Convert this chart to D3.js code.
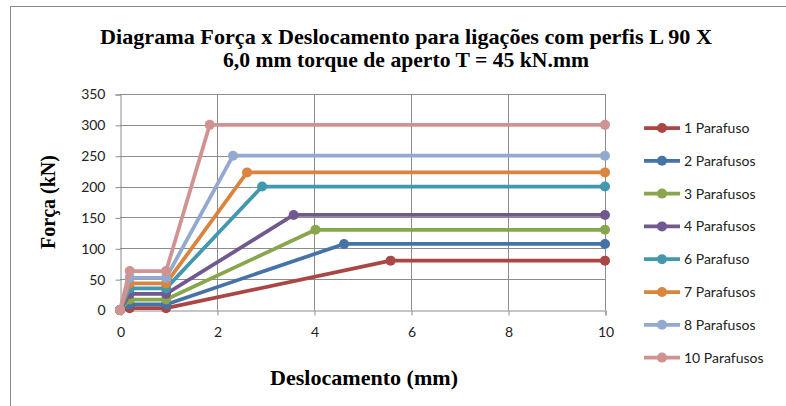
<!DOCTYPE html>
<html>
<head>
<meta charset="utf-8">
<script src="https://cdn.jsdelivr.net/npm/d3@7"></script>
<style>
  html, body { margin: 0; padding: 0; background: #fff; }
  svg { display: block; }
</style>
</head>
<body>
<svg id="chart" width="786" height="406"></svg>
<script>
// Force–displacement curves, one per bolt count
const seriesNames = ["1 Parafuso", "2 Parafusos", "3 Parafusos", "4 Parafusos",
                     "6 Parafuso", "7 Parafusos", "8 Parafusos", "10 Parafusos"];
const seriesColors = ["#AA4643", "#4572A7", "#89A54E", "#71588F",
                      "#4198AF", "#DB843D", "#93A9CF", "#D19392"];
// displacement (mm) of each point, per series
const dispValues = [
  [0, 0.2, 0.95, 5.58, 10],
  [0, 0.2, 0.95, 4.62, 10],
  [0, 0.2, 0.95, 4.03, 10],
  [0, 0.2, 0.95, 3.58, 10],
  [0, 0.2, 0.95, 2.93, 10],
  [0, 0.2, 0.95, 2.62, 10],
  [0, 0.2, 0.95, 2.33, 10],
  [0, 0.2, 0.95, 1.85, 10]
];
// force (kN) of each point, per series
const forceValues = [
  [0, 3, 3, 80, 80],
  [0, 9, 9, 107, 107],
  [0, 17, 17, 130, 130],
  [0, 26, 26, 154, 154],
  [0, 35, 35, 200, 200],
  [0, 43, 43, 223, 223],
  [0, 52, 52, 250, 250],
  [0, 63, 63, 300, 300]
];
const xTicks = [0, 2, 4, 6, 8, 10];
const yTicks = [0, 50, 100, 150, 200, 250, 300, 350];

const titleLines = ["Diagrama Força x Deslocamento para ligações com perfis L 90 X",
                    "6,0 mm torque de aperto T = 45 kN.mm"];
const titleWidths = [612, 366];
const xTitle = "Deslocamento (mm)";
const yTitle = "Força (kN)";

const svg = d3.select("#chart");
const plot = { left: 120, right: 605, top: 94, bottom: 310 };

const x = d3.scaleLinear().domain([0, 10]).range([plot.left, plot.right]);
const y = d3.scaleLinear().domain([0, 350]).range([plot.bottom, plot.top]);

const gridColor = "#8c8c8c";
const tickFont = "Lato, 'Open Sans', sans-serif";
const serif = "'Liberation Serif', 'Times New Roman', serif";

// outer chart frame
svg.append("rect")
  .attr("x", 10.5).attr("y", 6.5)
  .attr("width", 800).attr("height", 420)
  .attr("fill", "none").attr("stroke", "#8a8a8a").attr("stroke-width", 1);

// horizontal gridlines
svg.append("g")
  .selectAll("line")
  .data(yTicks.filter(d => d > 0))
  .join("line")
  .attr("x1", plot.left).attr("x2", plot.right)
  .attr("y1", d => Math.round(y(d)) + 0.5).attr("y2", d => Math.round(y(d)) + 0.5)
  .attr("stroke", gridColor).attr("stroke-width", 1);

// vertical gridlines
svg.append("g")
  .selectAll("line")
  .data(xTicks.filter(d => d > 0))
  .join("line")
  .attr("x1", d => Math.round(x(d)) + 0.5).attr("x2", d => Math.round(x(d)) + 0.5)
  .attr("y1", plot.top).attr("y2", plot.bottom)
  .attr("stroke", gridColor).attr("stroke-width", 1);

// axes
const xAxis = d3.axisBottom(x).tickValues(xTicks).tickSize(5).tickPadding(12);
const yAxis = d3.axisLeft(y).tickValues(yTicks).tickSize(5).tickPadding(10);

const gx = svg.append("g")
  .attr("transform", `translate(0.5,${Math.round(y(0)) + 0.5})`)
  .call(xAxis);
const gy = svg.append("g")
  .attr("transform", `translate(${Math.round(x(0)) + 0.5},0.5)`)
  .call(yAxis);

[gx, gy].forEach(g => {
  g.select(".domain").attr("stroke", gridColor);
  g.selectAll(".tick line").attr("stroke", gridColor);
  g.selectAll(".tick text")
    .attr("fill", "#222")
    .style("font-family", tickFont)
    .style("font-size", "14px");
});

// series lines and markers
const line = d3.line().x(d => x(d[0])).y(d => y(d[1]));
seriesNames.forEach((name, i) => {
  const pts = dispValues[i].map((dx, j) => [dx, forceValues[i][j]]);
  const g = svg.append("g");
  g.append("path")
    .datum(pts)
    .attr("d", line)
    .attr("fill", "none")
    .attr("stroke", seriesColors[i])
    .attr("stroke-width", 3.75)
    .attr("stroke-linejoin", "round");
  g.selectAll("circle")
    .data(pts)
    .join("circle")
    .attr("cx", d => x(d[0])).attr("cy", d => y(d[1]))
    .attr("r", 5)
    .attr("fill", seriesColors[i]);
});

// title, two centred lines
svg.append("g")
  .selectAll("text")
  .data(titleLines)
  .join("text")
  .attr("x", 406)
  .attr("y", (d, i) => 44 + i * 23)
  .attr("text-anchor", "middle")
  .attr("textLength", (d, i) => titleWidths[i])
  .attr("lengthAdjust", "spacingAndGlyphs")
  .style("font-family", serif)
  .style("font-weight", "bold")
  .style("font-size", "21px")
  .attr("fill", "#000")
  .text(d => d);

// axis titles
svg.append("text")
  .attr("x", 364).attr("y", 385)
  .attr("text-anchor", "middle")
  .attr("textLength", 188)
  .attr("lengthAdjust", "spacingAndGlyphs")
  .style("font-family", serif).style("font-weight", "bold").style("font-size", "21px")
  .text(xTitle);

svg.append("text")
  .attr("transform", "translate(55,202) rotate(-90)")
  .attr("text-anchor", "middle")
  .style("font-family", serif).style("font-weight", "bold").style("font-size", "20px")
  .text(yTitle);

// legend
const legend = svg.append("g");
seriesNames.forEach((name, i) => {
  const ly = 128 + i * 32.8;
  legend.append("line")
    .attr("x1", 644).attr("x2", 680).attr("y1", ly).attr("y2", ly)
    .attr("stroke", seriesColors[i]).attr("stroke-width", 3.75);
  legend.append("circle")
    .attr("cx", 662).attr("cy", ly).attr("r", 5)
    .attr("fill", seriesColors[i]);
  legend.append("text")
    .attr("x", 684).attr("y", ly + 5)
    .style("font-family", tickFont).style("font-size", "14px")
    .attr("fill", "#222")
    .text(name);
});
</script>
</body>
</html>
